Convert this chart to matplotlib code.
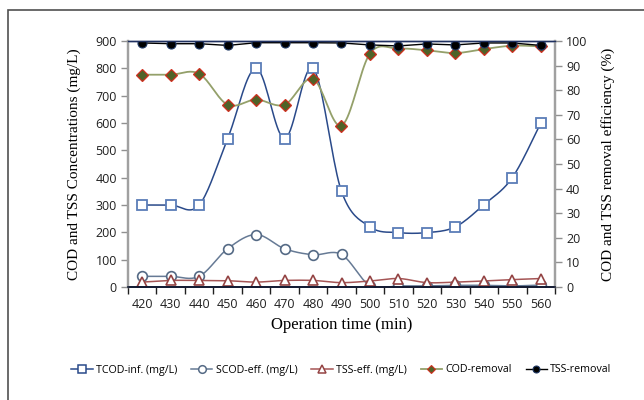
import matplotlib
matplotlib.use("Agg")
import matplotlib.pyplot as plt
import numpy as np
from matplotlib.lines import Line2D
from matplotlib.patches import Rectangle

# data
times = [420, 430, 440, 450, 460, 470, 480, 490, 500, 510, 520, 530, 540, 550, 560]
tcod_inf = [300, 300, 300, 543, 800, 543, 800, 350, 220, 199, 199, 220, 301, 400, 600]
scod_eff = [39, 39, 39, 140, 192, 140, 118, 119, 5, 4, 4, 6, 6, 4, 7]
tss_eff = [18, 24, 24, 23, 18, 24, 24, 16, 22, 31, 16, 18, 22, 27, 31]
cod_removal = [86.3, 86.3, 86.7, 74.1, 76.2, 74.1, 84.6, 65.6, 94.9, 96.9, 96.2, 95.1, 96.7, 98.1, 97.8]
tss_removal = [99.2, 98.9, 98.9, 98.2, 99.3, 99.3, 99.3, 99.2, 98.4, 98.0, 98.8, 98.4, 99.2, 99.2, 98.2]


def smooth(y, n=20):
    # Catmull-Rom style curve through the points, like Excel's smoothed line
    y = np.asarray(y, dtype=float)
    x = np.arange(len(y), dtype=float)
    xs, ys = [], []
    for i in range(len(y) - 1):
        p0 = np.array([x[max(i - 1, 0)], y[max(i - 1, 0)]])
        p1 = np.array([x[i], y[i]])
        p2 = np.array([x[i + 1], y[i + 1]])
        p3 = np.array([x[min(i + 2, len(y) - 1)], y[min(i + 2, len(y) - 1)]])
        c1 = p1 + (p2 - p0) / 6
        c2 = p2 - (p3 - p1) / 6
        t = np.linspace(0, 1, n)[:, None]
        pts = ((1 - t) ** 3) * p1 + 3 * ((1 - t) ** 2) * t * c1 + 3 * (1 - t) * t ** 2 * c2 + t ** 3 * p2
        xs.extend(pts[:, 0])
        ys.extend(pts[:, 1])
    return np.array(xs), np.array(ys)


fig = plt.figure(figsize=(6.44, 4.0), dpi=100)
fig.patches.append(Rectangle((8 / 644, -0.1), 1.2, 1 - 10 / 400 + 0.1, transform=fig.transFigure,
                             fill=False, edgecolor="#505050", linewidth=1.2))

ax = fig.add_axes([128 / 644, 1 - 287 / 400, 427 / 644, 246 / 400])
ax2 = ax.twinx()
idx = np.arange(len(times))

c_tcod, c_tcod_m = "#2A4A8A", "#5B7DB8"
c_scod, c_scod_m = "#667A95", "#556A85"
c_tss, c_tss_m = "#A55555", "#944444"
c_codr_l, c_codr_f, c_codr_e = "#94A06A", "#4F6228", "#D03020"

sx, sy = smooth(tcod_inf)
ax.plot(sx, sy, color=c_tcod, lw=1.1)
ax.plot(idx, tcod_inf, ls="none", marker="s", ms=7, mfc="white", mec=c_tcod_m, mew=1.3)

sx, sy = smooth(scod_eff)
ax.plot(sx, sy, color=c_scod, lw=1.1)
ax.plot(idx, scod_eff, ls="none", marker="o", ms=7, mfc="white", mec=c_scod_m, mew=1.2)

sx, sy = smooth(tss_eff)
ax.plot(sx, sy, color=c_tss, lw=1.1)
ax.plot(idx, tss_eff, ls="none", marker="^", ms=7, mfc="white", mec=c_tss_m, mew=1.2)

sx, sy = smooth(cod_removal)
ax2.plot(sx, sy, color=c_codr_l, lw=1.3)
ax2.plot(idx, cod_removal, ls="none", marker="D", ms=6, mfc=c_codr_f, mec=c_codr_e, mew=0.9)

ax2.plot(idx, tss_removal, color="black", lw=1.0, marker="o", ms=6.5, mfc="black", mec="#1F3864", mew=0.8)

ax.set_xlim(-0.5, len(times) - 0.5)
ax.set_ylim(0, 900)
ax2.set_ylim(0, 100)
ax.set_yticks(np.arange(0, 901, 100))
ax2.set_yticks(np.arange(0, 101, 10))
ax.set_xticks(idx)
ax.set_xticklabels([str(t) for t in times])
ax.set_xticks(np.arange(-0.5, len(times), 1), minor=True)
ax.tick_params(axis="x", which="major", length=0, pad=8)
ax.tick_params(axis="x", which="minor", length=5, width=1, color="#202020", direction="out")

for lab in ax.get_xticklabels() + ax.get_yticklabels() + ax2.get_yticklabels():
    lab.set_fontfamily("Open Sans")
    lab.set_fontsize(9)
    lab.set_color("#202020")
ax.tick_params(axis="y", length=5, width=1, color="#909090", direction="out", pad=3)
ax2.tick_params(axis="y", length=5, width=1, color="#909090", direction="out", pad=3)

for a in (ax, ax2):
    a.spines["left"].set_color("#A0A0A0")
    a.spines["left"].set_linewidth(1.6)
    a.spines["right"].set_color("#A0A0A0")
    a.spines["right"].set_linewidth(1.6)
    a.spines["bottom"].set_color("#101830")
    a.spines["bottom"].set_linewidth(1.2)
    a.spines["top"].set_color("#1F3060")
    a.spines["top"].set_linewidth(1.0)

ax.set_ylabel("COD and TSS Concentrations (mg/L)", family="Liberation Serif", fontsize=11, labelpad=10)
ax2.set_ylabel("COD and TSS removal efficiency (%)", family="Liberation Serif", fontsize=11, labelpad=10)
ax.set_xlabel("Operation time (min)", family="Liberation Serif", fontsize=12, labelpad=4)

handles = [
    Line2D([], [], color=c_tcod, lw=1.1, marker="s", ms=5.5, mfc="white", mec=c_tcod, mew=1.1),
    Line2D([], [], color=c_scod, lw=1.1, marker="o", ms=5.5, mfc="white", mec=c_scod_m, mew=1.1),
    Line2D([], [], color=c_tss, lw=1.1, marker="^", ms=5.5, mfc="white", mec=c_tss_m, mew=1.1),
    Line2D([], [], color=c_codr_l, lw=1.3, marker="D", ms=4, mfc=c_codr_f, mec=c_codr_e, mew=0.8),
    Line2D([], [], color="black", lw=1.0, marker="o", ms=5, mfc="black", mec="#1F3864", mew=0.8),
]
labels = ["TCOD-inf. (mg/L)", "SCOD-eff. (mg/L)", "TSS-eff. (mg/L)", "COD-removal", "TSS-removal"]
fig.legend(handles, labels, loc="center", bbox_to_anchor=(0.53, 1 - 370 / 400), ncol=5,
           frameon=False, prop={"family": "Open Sans", "size": 7.7}, handlelength=2.0,
           handletextpad=0.3, columnspacing=1.3)

fig.savefig("out.png", dpi=100)
